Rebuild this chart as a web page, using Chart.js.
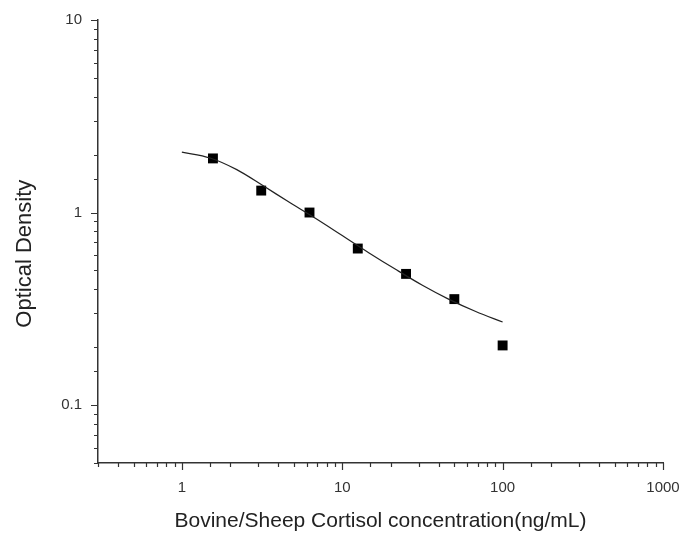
<!DOCTYPE html>
<html>
<head>
<meta charset="utf-8">
<script src="https://cdn.jsdelivr.net/npm/chart.js@4.4.1/dist/chart.umd.min.js"></script>
<style>
  html, body { margin: 0; padding: 0; background: #fff; }
  #wrap { width: 683px; height: 536px; }
</style>
</head>
<body>
<div id="wrap"><canvas id="odChart"></canvas></div>
<script>
// standard concentrations (ng/mL) and measured OD
const concentrations = [1.5625, 3.125, 6.25, 12.5, 25, 50, 100];
const densities = [1.91, 1.30, 1.00, 0.65, 0.48, 0.355, 0.204];

// fitted curve
const curveX = [1, 1.5, 2.2, 3.2, 4.6, 6.8, 10, 14.7, 21.5, 31.6, 46, 68, 100];
const curveY = [2.06, 1.92, 1.67, 1.38, 1.14, 0.933, 0.759, 0.617, 0.507, 0.419, 0.355, 0.306, 0.27];

const xTickLabels = [1, 10, 100, 1000];
const yTickLabels = [0.1, 1, 10];

const isMajor = v => Math.abs(Math.log10(v) - Math.round(Math.log10(v))) < 1e-9;

// draws major/minor tick marks along the two axes
const tickMarks = {
    id: "tickMarks",
    afterDraw(chart) {
        const ctx = chart.ctx;
        const xs = chart.scales.x;
        const ys = chart.scales.y;
        ctx.save();
        ctx.strokeStyle = "#333";
        ctx.lineWidth = 1.2;
        ctx.beginPath();
        xs.ticks.forEach(t => {
            const px = Math.round(xs.getPixelForValue(t.value)) + 0.5;
            const len = isMajor(t.value) ? 7 : 4;
            ctx.moveTo(px, xs.top);
            ctx.lineTo(px, xs.top + len);
        });
        ys.ticks.forEach(t => {
            const py = Math.round(ys.getPixelForValue(t.value)) + 0.5;
            const len = isMajor(t.value) ? 7 : 4;
            ctx.moveTo(ys.right, py);
            ctx.lineTo(ys.right - len, py);
        });
        ctx.stroke();
        ctx.restore();
    }
};

new Chart(document.getElementById("odChart"), {
    type: "scatter",
    data: {
        datasets: [
            {
                label: "Fit",
                data: curveX.map((x, i) => ({ x: x, y: curveY[i] })),
                showLine: true,
                borderColor: "#222",
                borderWidth: 1.2,
                pointRadius: 0,
                cubicInterpolationMode: "monotone"
            },
            {
                label: "Standards",
                data: concentrations.map((x, i) => ({ x: x, y: densities[i] })),
                pointStyle: "rect",
                pointRadius: 7,
                backgroundColor: "#000",
                borderColor: "#000",
                borderWidth: 0
            }
        ]
    },
    options: {
        responsive: true,
        maintainAspectRatio: false,
        animation: false,
        layout: { padding: { top: 20, right: 20, left: 0, bottom: 0 } },
        plugins: { legend: { display: false }, tooltip: { enabled: false } },
        scales: {
            x: {
                type: "logarithmic",
                min: 0.3,
                max: 1000,
                afterFit: s => { s.height = 73; s.paddingLeft = 0; s.paddingRight = 0; },
                grid: { display: false, drawTicks: false },
                border: { display: true, color: "#333", width: 1.5 },
                ticks: {
                    autoSkip: false,
                    maxRotation: 0,
                    padding: 16,
                    color: "#333",
                    font: { family: "Liberation Sans", size: 15 },
                    callback: v => (xTickLabels.includes(v) ? String(v) : "")
                },
                title: {
                    display: true,
                    text: "Bovine/Sheep Cortisol concentration(ng/mL)",
                    color: "#222",
                    font: { family: "Liberation Sans", size: 21 },
                    padding: { top: 0, bottom: 2 }
                }
            },
            y: {
                type: "logarithmic",
                min: 0.05,
                max: 10,
                afterFit: s => { s.width = 98; s.paddingTop = 0; s.paddingBottom = 0; },
                grid: { display: false, drawTicks: false },
                border: { display: true, color: "#333", width: 1.5 },
                ticks: {
                    autoSkip: false,
                    padding: 16,
                    color: "#333",
                    font: { family: "Liberation Sans", size: 15 },
                    callback: v => (yTickLabels.includes(v) ? String(v) : "")
                },
                title: {
                    display: true,
                    text: "Optical Density    ",
                    color: "#222",
                    font: { family: "Liberation Sans", size: 22 },
                    padding: { top: 12, bottom: 0 }
                }
            }
        }
    },
    plugins: [tickMarks]
});
</script>
</body>
</html>
